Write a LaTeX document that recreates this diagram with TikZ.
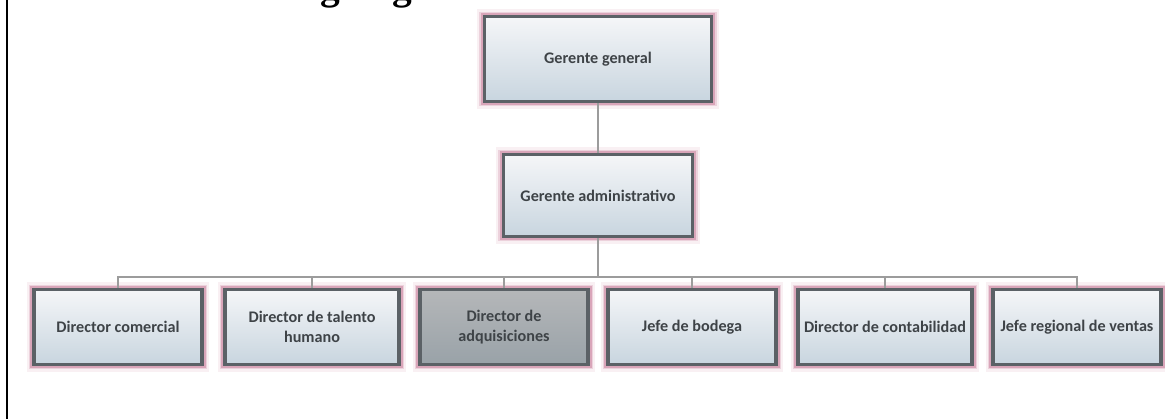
\documentclass[tikz,border=0pt]{standalone}
\usepackage{fontspec}
\setmainfont{Carlito}
\newfontfamily\titulofont{Liberation Serif}
\usetikzlibrary{positioning}

\definecolor{bordeoscuro}{HTML}{5B6166}
\definecolor{rosado}{HTML}{D49AB0}
\definecolor{fondoclaro}{HTML}{F5F6F8}
\definecolor{fondoazul}{HTML}{C8D5DF}
\definecolor{grisclaro}{HTML}{B5B7B9}
\definecolor{grisoscuro}{HTML}{99A2A8}
\definecolor{linea}{HTML}{9C9C9C}
\definecolor{letra}{HTML}{3E4347}

\tikzset{
  cargo/.style={draw=bordeoscuro, line width=2.2pt, text=letra, align=center,
    font=\fontsize{11.5}{14.2}\selectfont\bfseries, inner sep=1pt,
    top color=fondoclaro, bottom color=fondoazul,
    preaction={draw=rosado, line width=10pt, draw opacity=.15},
    preaction={draw=rosado, line width=7pt, draw opacity=.35},
    preaction={draw=rosado, line width=5pt, draw opacity=.8},
    append after command={\pgfextra{\draw[white!88!gray, line width=.8pt]
      ([shift={(2.2pt,-2.2pt)}]\tikzlastnode.north west) rectangle
      ([shift={(-2.2pt,2.2pt)}]\tikzlastnode.south east);}}},
  resaltado/.style={top color=grisclaro, bottom color=grisoscuro},
  director/.style={cargo, minimum width=4.2cm, minimum height=1.875cm},
  rama/.style={draw=linea, line width=1pt}
}

\begin{document}
\begin{tikzpicture}[x=0.025cm, y=-0.025cm]
  \useasboundingbox (0,0) rectangle (1165,419);

  % borde de la tabla
  \draw[line width=1.5pt] (7,0) -- (7,419);

  % titulo (cortado arriba)
  \node[font=\titulofont\fontsize{28}{30}\selectfont\bfseries, anchor=base west,
    inner sep=0pt] (titulo) at (272,0) {Organigrama};

  % gerencia
  \node[cargo, minimum width=5.68cm, minimum height=2.125cm] (general) at (598,59) {Gerente general};

  \node[cargo, minimum width=4.73cm, minimum height=2.05cm] (admin) at (598,195.5) {Gerente administrativo};

  % directores y jefes
  \node[director] (comercial) at (118,327) {Director comercial};

  \node[director, minimum width=4.35cm] (talento) at (312,327) {Director de talento\\humano};

  \node[director, resaltado] (adquisiciones) at (504,327) {Director de\\adquisiciones};

  \node[director] (bodega) at (692,327) {Jefe de bodega};

  \node[director, minimum width=4.35cm] (contabilidad) at (885,327) {Director de contabilidad};

  \node[director] (ventas) at (1077,327) {Jefe regional de ventas};

  % conectores
  \coordinate (bus) at (598,277);
  \draw[rama] (general) -- (admin);
  \draw[rama] (admin) -- (bus);
  \draw[rama] (bus) -| (comercial);
  \draw[rama] (bus) -| (talento);
  \draw[rama] (bus) -| (adquisiciones);
  \draw[rama] (bus) -| (bodega);
  \draw[rama] (bus) -| (contabilidad);
  \draw[rama] (bus) -| (ventas);
\end{tikzpicture}
\end{document}
